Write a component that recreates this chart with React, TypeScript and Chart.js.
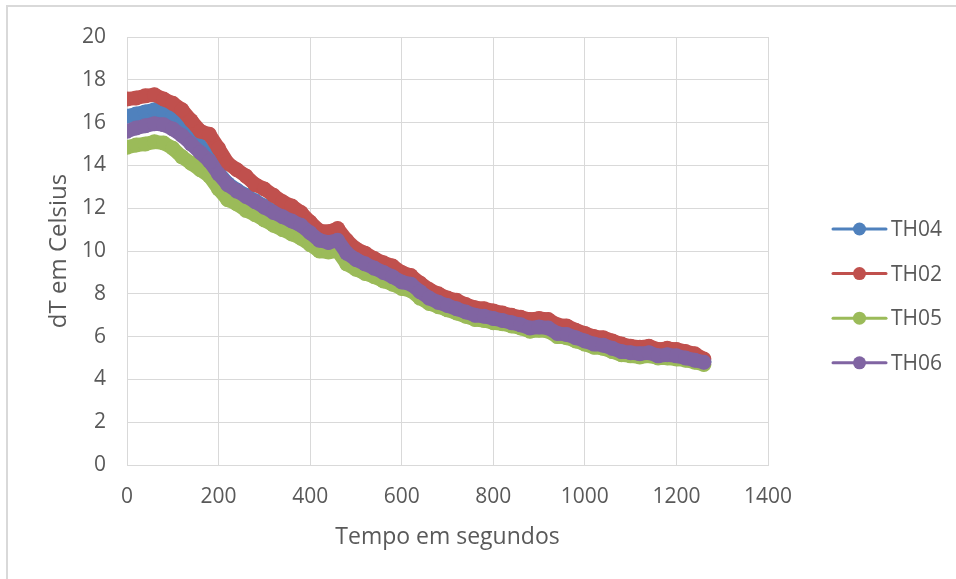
import React, { useEffect, useRef } from "react";
import { Chart, registerables } from "chart.js";

Chart.register(...registerables);

const timeSeconds = [
  0, 20, 40, 60, 80, 100, 120, 140, 160, 180, 200, 220, 240, 260, 280, 300,
  320, 340, 360, 380, 400, 420, 440, 460, 480, 500, 520, 540, 560, 580, 600,
  620, 640, 660, 680, 700, 720, 740, 760, 780, 800, 820, 840, 860, 880, 900,
  920, 940, 960, 980, 1000, 1020, 1040, 1060, 1080, 1100, 1120, 1140, 1160,
  1180, 1200, 1220, 1240, 1260,
];

const th04 = [
  16.3, 16.4, 16.5, 16.6, 16.5, 16.3, 16.0, 15.5, 14.9, 14.4, 13.65, 13.15,
  12.85, 12.6, 12.35, 12.1, 11.85, 11.65, 11.45, 11.25, 10.9, 10.55, 10.45,
  10.55, 9.95, 9.65, 9.45, 9.25, 9.05, 8.85, 8.6, 8.5, 8.15, 7.85, 7.65, 7.5,
  7.35, 7.2, 7.05, 7.0, 6.9, 6.8, 6.7, 6.6, 6.45, 6.5, 6.45, 6.2, 6.15, 6.0,
  5.85, 5.7, 5.65, 5.5, 5.35, 5.3, 5.25, 5.3, 5.15, 5.2, 5.15, 5.05, 4.95, 4.85,
];

const th02 = [
  17.1, 17.15, 17.25, 17.3, 17.1, 16.9, 16.6, 16.1, 15.6, 15.45, 14.8, 14.1,
  13.8, 13.5, 13.1, 12.9, 12.6, 12.3, 12.1, 11.8, 11.35, 10.95, 10.9, 11.05,
  10.5, 10.1, 9.9, 9.65, 9.45, 9.3, 9.0, 8.85, 8.5, 8.2, 8.0, 7.8, 7.7, 7.5,
  7.35, 7.3, 7.2, 7.1, 7.0, 6.9, 6.8, 6.85, 6.8, 6.55, 6.5, 6.3, 6.15, 6.0,
  5.95, 5.8, 5.65, 5.55, 5.5, 5.55, 5.4, 5.45, 5.4, 5.3, 5.2, 4.95,
];

const th05 = [
  14.85, 14.95, 15.0, 15.1, 15.05, 14.8, 14.4, 14.1, 13.8, 13.5, 12.9, 12.4,
  12.2, 11.9, 11.7, 11.45, 11.2, 11.0, 10.8, 10.6, 10.3, 10.0, 9.95, 10.0, 9.4,
  9.15, 8.95, 8.8, 8.6, 8.45, 8.25, 8.15, 7.8, 7.55, 7.4, 7.25, 7.1, 6.95, 6.8,
  6.75, 6.65, 6.6, 6.5, 6.4, 6.25, 6.3, 6.25, 6.0, 5.95, 5.8, 5.65, 5.5, 5.45,
  5.3, 5.15, 5.1, 5.05, 5.1, 5.0, 5.0, 4.95, 4.9, 4.8, 4.7,
];

const th06 = [
  15.6, 15.75, 15.85, 15.95, 15.9, 15.7, 15.4, 15.0, 14.6, 14.2, 13.6, 13.1,
  12.8, 12.55, 12.3, 12.05, 11.8, 11.6, 11.4, 11.2, 10.85, 10.5, 10.4, 10.5,
  9.9, 9.6, 9.4, 9.2, 9.0, 8.8, 8.55, 8.45, 8.1, 7.8, 7.6, 7.45, 7.3, 7.15, 7.0,
  6.95, 6.85, 6.75, 6.65, 6.55, 6.4, 6.45, 6.4, 6.15, 6.1, 5.95, 5.8, 5.65,
  5.6, 5.45, 5.3, 5.25, 5.2, 5.25, 5.1, 5.15, 5.1, 5.0, 4.9, 4.8,
];

const seriesNames = ["TH04", "TH02", "TH05", "TH06"];
const seriesValues = [th04, th02, th05, th06];
const seriesColors = ["#4F81BD", "#C0504D", "#9BBB59", "#8064A2"];

const xTitle = "Tempo em segundos";
const yTitle = "dT em Celsius";

const FONT = "'Open Sans', 'Noto Sans', sans-serif";
const TEXT = "#595959";
const GRID = "#d9d9d9";

const legendPlugin = {
  id: "excelLegend",
  afterDraw(chart: any) {
    const ctx = chart.ctx;
    ctx.save();
    const x0 = 833;
    const x1 = 886;
    const startY = 229;
    const step = 44.6;
    seriesNames.forEach((name, i) => {
      const y = startY + i * step;
      const c = seriesColors[i];
      ctx.strokeStyle = c;
      ctx.lineWidth = 3;
      ctx.lineCap = "round";
      ctx.beginPath();
      ctx.moveTo(x0, y);
      ctx.lineTo(x1, y);
      ctx.stroke();
      ctx.fillStyle = c;
      ctx.beginPath();
      ctx.arc((x0 + x1) / 2, y, 6.5, 0, Math.PI * 2);
      ctx.fill();
      ctx.fillStyle = TEXT;
      ctx.font = `21px ${FONT}`;
      ctx.textAlign = "left";
      ctx.textBaseline = "middle";
      ctx.fillText(name, 891, y + 1);
    });
    ctx.restore();
  },
};

export default function App() {
  const canvasRef = useRef<HTMLCanvasElement | null>(null);

  useEffect(() => {
    if (!canvasRef.current) return;
    const datasets = seriesNames.map((name, i) => ({
      label: name,
      data: timeSeconds.map((t, j) => ({ x: t, y: seriesValues[i][j] })),
      borderColor: seriesColors[i],
      backgroundColor: seriesColors[i],
      borderWidth: 14,
      borderJoinStyle: "round" as const,
      borderCapStyle: "round" as const,
      pointRadius: 7.5,
      pointHoverRadius: 7.5,
      pointBorderWidth: 0,
      showLine: true,
      tension: 0,
      order: seriesNames.length - 1 - i,
    }));

    const chart = new Chart(canvasRef.current, {
      type: "scatter",
      data: { datasets },
      plugins: [legendPlugin],
      options: {
        animation: false,
        responsive: false,
        maintainAspectRatio: false,
        layout: { padding: { top: 37, right: 188, bottom: 0, left: 0 } },
        plugins: {
          legend: { display: false },
          tooltip: { enabled: false },
          title: { display: false },
        },
        scales: {
          x: {
            type: "linear",
            min: 0,
            max: 1400,
            ticks: {
              stepSize: 200,
              padding: 19,
              color: TEXT,
              font: { family: FONT, size: 21 },
              callback: (v: any) => String(v),
            },
            grid: { color: GRID, lineWidth: 1, drawTicks: false },
            border: { color: GRID, width: 1 },
            title: {
              display: true,
              text: xTitle,
              color: TEXT,
              font: { family: FONT, size: 23 },
              padding: { top: 0, bottom: 28 },
            },
            afterFit: (scale: any) => {
              scale.height = 114;
            },
          },
          y: {
            type: "linear",
            min: 0,
            max: 20,
            ticks: {
              stepSize: 2,
              padding: 21,
              color: TEXT,
              font: { family: FONT, size: 21 },
              callback: (v: any) => String(v),
            },
            grid: { color: GRID, lineWidth: 1, drawTicks: false },
            border: { color: GRID, width: 1 },
            title: {
              display: true,
              text: yTitle,
              color: TEXT,
              font: { family: FONT, size: 24 },
              padding: { top: 45, bottom: 0 },
            },
            afterFit: (scale: any) => {
              scale.width = 127;
            },
          },
        },
      },
    });
    return () => chart.destroy();
  }, []);

  return (
    <div
      style={{
        position: "fixed",
        left: 0,
        top: 0,
        width: 956,
        height: 579,
        background: "#ffffff",
        overflow: "hidden",
      }}
    >
      <div
        style={{
          position: "absolute",
          left: 6,
          top: 5,
          width: 980,
          height: 620,
          border: "2px solid #d9d9d9",
          boxSizing: "border-box",
        }}
      />
      <canvas
        ref={canvasRef}
        width={956}
        height={579}
        style={{ position: "absolute", left: 0, top: 0, width: 956, height: 579 }}
      />
    </div>
  );
}
